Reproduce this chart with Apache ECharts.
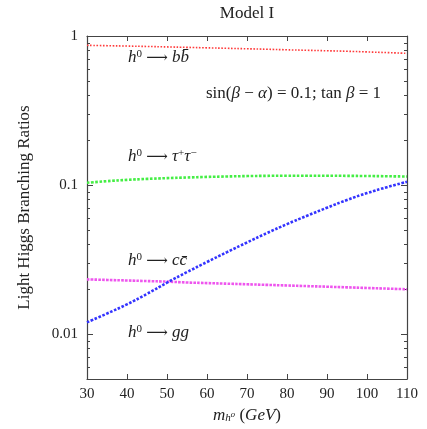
<!DOCTYPE html>
<html>
<head>
<meta charset="utf-8">
<script src="https://cdn.jsdelivr.net/npm/echarts@6/dist/echarts.min.js"></script>
<style>html,body{margin:0;padding:0;background:#fff}#c{width:427px;height:429px}</style>
</head>
<body>
<div id="c"></div>
<script>
const masses = [30,35,40,45,50,55,60,65,70,75,80,85,90,95,100,105,110];
const brBB  = [0.866,0.861,0.856,0.851,0.845,0.839,0.833,0.827,0.821,0.815,0.808,0.802,0.796,0.790,0.782,0.774,0.765];
const brTau = [0.1036,0.1062,0.1083,0.1100,0.1113,0.1124,0.1134,0.1142,0.1149,0.1153,0.1155,0.1156,0.1155,0.1153,0.1150,0.1146,0.1141];
const brCC  = [0.0233,0.0231,0.0229,0.0227,0.0225,0.0222,0.0220,0.0218,0.0216,0.0214,0.0212,0.0210,0.0208,0.0206,0.0204,0.0202,0.0200];
const brGG  = [0.0120,0.01374,0.01585,0.01862,0.02213,0.02606,0.03048,0.03548,0.04121,0.04764,0.0547,0.06223,0.07047,0.07943,0.08831,0.09683,0.1052];
const xTicks = [30,40,50,60,70,80,90,100,110];
const yMajor = [0.01,0.1,1];
const yMajorLabels = ['0.01','0.1','1'];
const yMinor = [0.006,0.007,0.008,0.009,0.02,0.03,0.04,0.05,0.06,0.07,0.08,0.09,0.2,0.3,0.4,0.5,0.6,0.7,0.8,0.9];

const FONT = '"Liberation Serif", "DejaVu Serif", serif';
const AX = '#444';
const TXT = 17;
const chart = echarts.init(document.getElementById('c'), null, {renderer:'canvas'});

function pairs(vals){ return masses.map((m,i)=>[m, vals[i]]); }
function yAx(pos, ticks, len, showLine, labels){
  return {
    type:'log', logBase:10, min:0.005, max:1, position:pos,
    axisLine:{show:showLine, lineStyle:{color:AX, width:1.2}},
    axisTick:{show:true, inside:true, length:len, customValues:ticks, lineStyle:{color:AX, width:1}},
    axisLabel:{show:!!labels, customValues:labels?ticks:undefined, fontFamily:FONT, fontSize:15, color:'#222', margin:9,
      formatter:function(v){ const i = yMajor.findIndex(t=>Math.abs(t-v)/t<1e-6); return i>=0?yMajorLabels[i]:''; }},
    splitLine:{show:false}, minorTick:{show:false}
  };
}
const yAxes = [
  Object.assign(yAx('left', yMajor, 6, true, true), {
    name:'Light Higgs Branching Ratios', nameLocation:'middle', nameGap:54,
    nameTextStyle:{fontFamily:FONT, fontSize:TXT, color:'#222'}
  }),
  yAx('left', yMinor, 3, false, false),
  yAx('right', yMajor, 6, true, false),
  yAx('right', yMinor, 3, false, false)
];
function xAx(pos, labels){
  const o = {
    type:'value', min:30, max:110, interval:10, position:pos,
    axisLine:{show:true, onZero:false, lineStyle:{color:AX, width:1.2}},
    axisTick:{show:true, inside:true, length:5, lineStyle:{color:AX, width:1}},
    axisLabel:{show:labels, fontFamily:FONT, fontSize:15, color:'#222', margin:8},
    splitLine:{show:false}
  };
  if (labels) {
    o.name = '{it|m}{sub|h⁰} ({it|GeV})';
    o.nameLocation = 'middle'; o.nameGap = 27;
    o.nameTextStyle = {fontFamily:FONT, fontSize:TXT, color:'#222',
      rich:{it:{fontFamily:FONT, fontStyle:'italic', fontSize:TXT, color:'#222'},
            sub:{fontFamily:FONT, fontStyle:'italic', fontSize:11, color:'#222', verticalAlign:'bottom', padding:[6,0,0,0]}}};
  }
  return o;
}
const dotted = (c,w,g)=>({color:c, width:w, type:[w,g], cap:'butt'});
const series = [
  {name:'bb', data:pairs(brBB), lineStyle:dotted('#ff3b3b',1.6,1.6)},
  {name:'tau', data:pairs(brTau), lineStyle:dotted('#44ee44',2.6,1.6)},
  {name:'cc', data:pairs(brCC), lineStyle:dotted('#ee55ee',2.6,1.2)},
  {name:'gg', data:pairs(brGG), lineStyle:dotted('#3333ff',2.6,1.6)}
].map(s=>Object.assign({type:'line', smooth:true, showSymbol:false, symbol:'none', xAxisIndex:0, yAxisIndex:0, z:3, animation:false}, s));

const richBase = {
  it:{fontFamily:FONT, fontStyle:'italic', fontSize:TXT, color:'#222'},
  n:{fontFamily:FONT, fontSize:TXT, color:'#222'},
  ar:{fontFamily:'"DejaVu Serif", "DejaVu Sans", serif', fontSize:TXT-2, color:'#222'},
  sup:{fontFamily:FONT, fontSize:11, color:'#222', verticalAlign:'top', padding:[0,0,7,0]}
};
function label(x,y,text){
  return {type:'text', x:x, y:y, z:10, style:{text:text, font:TXT+'px '+FONT, fill:'#222', rich:richBase, verticalAlign:'middle'}};
}

chart.setOption({
  animation:false,
  backgroundColor:'#fff',
  grid:{left:87, right:20, top:36, bottom:50, containLabel:false},
  xAxis:[xAx('bottom', true), xAx('top', false)],
  yAxis:yAxes,
  series:series,
  graphic:[
    {type:'text', x:247, y:14, style:{text:'Model I', font:TXT+'px '+FONT, fill:'#222', align:'center', verticalAlign:'middle'}},
    label(128,58,'{it|h}{sup|0} {ar|⟶} {it|bb\u0304}'),
    label(206,94,'{n|sin(}{it|β}{n| − }{it|α}{n|) = 0.1; tan }{it|β}{n| = 1}'),
    label(128,157,'{it|h}{sup|0} {ar|⟶} {it|τ}{sup|+}{it|τ}{sup|−}'),
    label(128,261,'{it|h}{sup|0} {ar|⟶} {it|cc\u0304}'),
    label(128,333,'{it|h}{sup|0} {ar|⟶} {it|gg}')
  ]
});
</script>
</body>
</html>
